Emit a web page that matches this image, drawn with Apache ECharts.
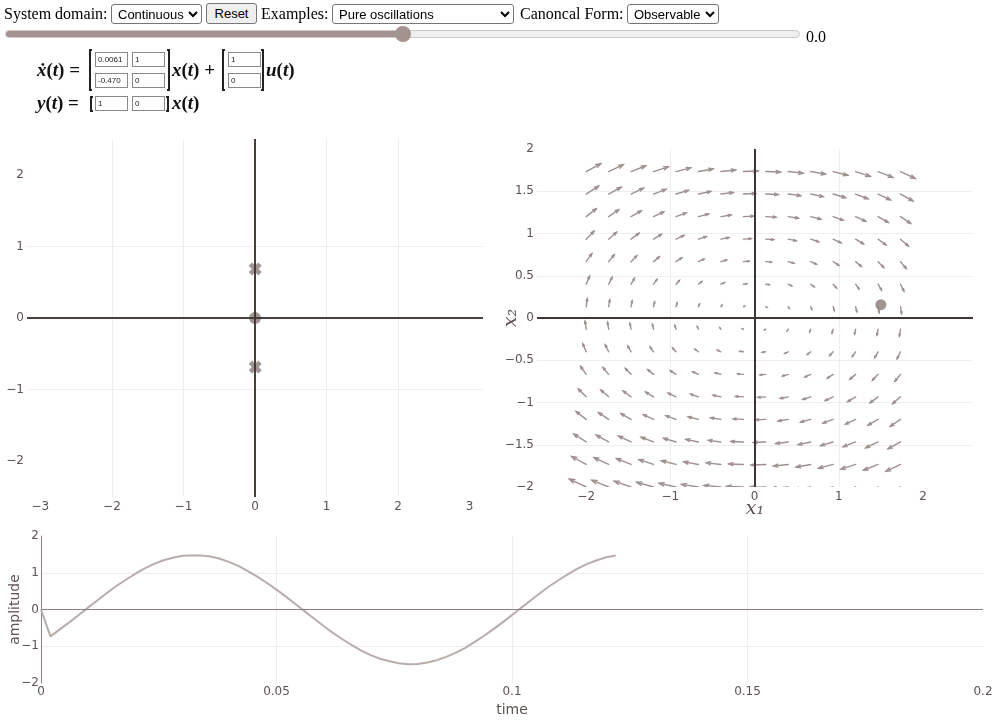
<!DOCTYPE html>
<html><head><meta charset="utf-8">
<script src="https://cdn.jsdelivr.net/npm/echarts@6/dist/echarts.min.js"></script>
<style>
html,body{margin:0;padding:0;background:#fff;width:998px;height:720px;overflow:hidden;font-family:'Liberation Serif','Times New Roman',serif;}
#chart{position:absolute;left:0;top:0;width:998px;height:720px;z-index:1;}
.t{position:absolute;z-index:2;font-size:16px;line-height:18px;color:#000;white-space:nowrap;}
select{position:absolute;z-index:2;font-family:'Liberation Sans',Arial,sans-serif;font-size:13px;height:20px;border:1px solid #767676;border-radius:3px;background:#fff;color:#000;padding:0 0 0 2px;margin:0;box-sizing:border-box;}
button{position:absolute;z-index:2;font-family:'Liberation Sans',Arial,sans-serif;font-size:13px;height:21px;border:1px solid #767676;border-radius:3px;background:#efefef;padding:0 6px;margin:0;box-sizing:border-box;}
input.r{position:absolute;z-index:2;left:5px;top:26px;width:795px;height:16px;margin:0;-webkit-appearance:none;appearance:none;background:transparent;}
input.r::-webkit-slider-runnable-track{height:8px;border-radius:4px;box-sizing:border-box;border:1px solid #cfc9c8;background:linear-gradient(to right,#a3938f 0,#a3938f 50%,#efefef 50%,#efefef 100%);}
input.r::-webkit-slider-thumb{-webkit-appearance:none;appearance:none;width:16px;height:16px;border-radius:50%;background:#a3938f;margin-top:-5px;border:none;}
.m{position:absolute;z-index:2;font-family:'Liberation Serif',serif;font-size:19px;font-weight:bold;white-space:nowrap;line-height:20px;color:#111;}
.m i{font-style:italic;}
.bl,.br{position:absolute;z-index:2;border:2px solid #222;width:3px;box-sizing:border-box;}
.bl{border-right:none;}
.br{border-left:none;}
input.c{position:absolute;z-index:2;width:33px;height:15px;font-family:'Liberation Sans',Arial,sans-serif;font-size:8px;padding:0 2px;border:1px solid #8a8a8a;box-sizing:border-box;margin:0;color:#222;background:#fff;}
</style>
</head><body>
<div id="chart"></div>

<span class="t" style="left:4px;top:5px;">System domain:</span>
<select style="left:111px;top:4px;width:91px;"><option>Continuous</option></select>
<button style="left:206px;top:3px;width:51px;">Reset</button>
<span class="t" style="left:261px;top:5px;">Examples:</span>
<select style="left:332px;top:4px;width:182px;"><option>Pure oscillations</option></select>
<span class="t" style="left:520px;top:5px;">Canoncal Form:</span>
<select style="left:627px;top:4px;width:92px;"><option>Observable</option></select>
<input class="r" type="range" min="-1" max="1" step="0.1" value="0">
<span class="t" style="left:806px;top:28px;">0.0</span>

<div class="m" style="left:37px;top:60px;"><i>ẋ</i>(<i>t</i>) =</div>
<div class="bl" style="left:89px;top:49px;height:42px;"></div>
<input class="c" style="left:95px;top:52px;" value="0.0061">
<input class="c" style="left:132px;top:52px;" value="1">
<input class="c" style="left:95px;top:73px;" value="-0.470">
<input class="c" style="left:132px;top:73px;" value="0">
<div class="br" style="left:167px;top:49px;height:42px;"></div>
<div class="m" style="left:172px;top:60px;"><i>x</i>(<i>t</i>) +</div>
<div class="bl" style="left:222px;top:49px;height:42px;"></div>
<input class="c" style="left:228px;top:52px;" value="1">
<input class="c" style="left:228px;top:73px;" value="0">
<div class="br" style="left:261px;top:49px;height:42px;"></div>
<div class="m" style="left:266px;top:60px;"><i>u</i>(<i>t</i>)</div>

<div class="m" style="left:37px;top:93px;"><i>y</i>(<i>t</i>) =</div>
<div class="bl" style="left:90px;top:96px;height:16px;"></div>
<input class="c" style="left:95px;top:96px;" value="1">
<input class="c" style="left:132px;top:96px;" value="0">
<div class="br" style="left:166px;top:96px;height:16px;"></div>
<div class="m" style="left:172px;top:93px;"><i>x</i>(<i>t</i>)</div>

<script>
// ---------------- data ----------------
// pole-zero map
const poles = [[0.003, 0.686], [0.003, -0.686]];
const zeros = [[0, 0]];
const pzTicksX = [-3, -2, -1, 0, 1, 2, 3];
const pzTicksY = [-2, -1, 0, 1, 2];

// phase portrait (quiver) : arrow tails and field components
const gridX1 = [-2, -1.733, -1.467, -1.2, -0.933, -0.667, -0.4, -0.133, 0.133, 0.4, 0.667, 0.933, 1.2, 1.467, 1.733];
const gridX2 = [-2, -1.733, -1.467, -1.2, -0.933, -0.667, -0.4, -0.133, 0.133, 0.4, 0.667, 0.933, 1.2, 1.467, 1.733];
const fieldDx1ByRow = [-2.0, -1.73, -1.47, -1.2, -0.93, -0.67, -0.4, -0.13, 0.13, 0.4, 0.67, 0.93, 1.2, 1.47, 1.74];
const fieldDx2ByCol = [0.94, 0.81, 0.69, 0.56, 0.44, 0.31, 0.19, 0.06, -0.06, -0.19, -0.31, -0.44, -0.56, -0.69, -0.81];
const statePoint = [[1.5, 0.157]];
const ppTicksX = [-2, -1, 0, 1, 2];

// time response
const timeValues = [0, 0.002, 0.004, 0.006, 0.008, 0.010, 0.012, 0.014, 0.016, 0.018, 0.020,
  0.022, 0.024, 0.026, 0.028, 0.030, 0.032, 0.034, 0.036, 0.038, 0.040,
  0.042, 0.044, 0.046, 0.048, 0.050, 0.052, 0.054, 0.056, 0.058, 0.060,
  0.062, 0.064, 0.066, 0.068, 0.070, 0.072, 0.074, 0.076, 0.078, 0.080,
  0.082, 0.084, 0.086, 0.088, 0.090, 0.092, 0.094, 0.096, 0.098, 0.100,
  0.102, 0.104, 0.106, 0.108, 0.110, 0.112, 0.114, 0.116, 0.118, 0.120, 0.122];
const amplitudeValues = [0, -0.73, -0.54, -0.35, -0.15, 0.05, 0.25, 0.45, 0.64, 0.81, 0.97,
  1.12, 1.24, 1.34, 1.41, 1.46, 1.47, 1.47, 1.44, 1.38, 1.29,
  1.18, 1.04, 0.89, 0.72, 0.54, 0.35, 0.15, -0.05, -0.25, -0.45,
  -0.64, -0.81, -0.97, -1.12, -1.24, -1.34, -1.41, -1.46, -1.49, -1.48,
  -1.44, -1.38, -1.29, -1.18, -1.05, -0.89, -0.72, -0.54, -0.35, -0.15,
  0.05, 0.25, 0.45, 0.64, 0.81, 0.97, 1.12, 1.24, 1.34, 1.42, 1.47, 1.49];

// ---------------- build ----------------
const quiverData = [];
for (let i = 0; i < gridX2.length; i++) {
  for (let j = 0; j < gridX1.length; j++) {
    quiverData.push([gridX1[j], gridX2[i], fieldDx1ByRow[i], fieldDx2ByCol[j]]);
  }
}
const respData = timeValues.map((t, i) => [t, amplitudeValues[i]]);

const QSCALE = 0.1, BARB = 0.3, BANG = Math.PI / 9;
const labelColor = '#5e5250';
const gridColor = '#eeeeee';
const zeroDark = '#3f3533';
const markColor = '#8a7a78';
const arrowColor = '#9e908e';
const fmt = v => String(+v.toFixed(4)).replace('-', '\u2212');
const font = 'DejaVu Sans';
const xPath = 'path://M-1.1,-2.3L0,-1.2L1.1,-2.3L2.3,-1.1L1.2,0L2.3,1.1L1.1,2.3L0,1.2L-1.1,2.3L-2.3,1.1L-1.2,0L-2.3,-1.1Z';

function axisBase(extra) {
  return Object.assign({
    type: 'value',
    nameMoveOverlap: false,
    axisLine: { show: false },
    axisTick: { show: false },
    axisLabel: { color: labelColor, fontFamily: font, fontSize: 12, margin: 3, formatter: fmt },
    splitLine: { show: true, showMinLine: false, showMaxLine: false, lineStyle: { color: gridColor, width: 1 } }
  }, extra);
}

const option = {
  animation: false,
  grid: [
    { left: 27, top: 139, width: 456, height: 358, outerBoundsMode: 'none', containLabel: false },
    { left: 537, top: 149, width: 436, height: 338, outerBoundsMode: 'none', containLabel: false },
    { left: 41, top: 536, width: 942, height: 147, outerBoundsMode: 'none', containLabel: false }
  ],
  xAxis: [
    axisBase({ gridIndex: 0, min: -3.187, max: 3.187,
      axisLabel: { color: labelColor, fontFamily: font, fontSize: 12, margin: 4, formatter: fmt, customValues: pzTicksX },
      axisTick: { show: false, customValues: pzTicksX } }),
    axisBase({ gridIndex: 1, min: -2.584, max: 2.594,
      axisLabel: { color: labelColor, fontFamily: font, fontSize: 12, margin: 4, formatter: fmt, customValues: ppTicksX },
      axisTick: { show: false, customValues: ppTicksX },
      name: 'x\u2081', nameLocation: 'middle', nameGap: 13,
      nameTextStyle: { fontFamily: 'DejaVu Serif', fontStyle: 'italic', fontSize: 19, color: labelColor } }),
    axisBase({ gridIndex: 2, min: 0, max: 0.2, interval: 0.05,
      name: 'time', nameLocation: 'middle', nameGap: 20,
      nameTextStyle: { fontFamily: font, fontSize: 14, color: labelColor } })
  ],
  yAxis: [
    axisBase({ gridIndex: 0, min: -2.5, max: 2.5,
      axisLabel: { color: labelColor, fontFamily: font, fontSize: 12, margin: 3, formatter: fmt, customValues: pzTicksY },
      axisTick: { show: false, customValues: pzTicksY } }),
    axisBase({ gridIndex: 1, min: -2, max: 2, interval: 0.5,
      name: 'x\u2082', nameLocation: 'middle', nameGap: 16, nameRotate: 90,
      nameTextStyle: { fontFamily: 'DejaVu Serif', fontStyle: 'italic', fontSize: 19, color: labelColor } }),
    axisBase({ gridIndex: 2, min: -2, max: 2, interval: 1,
      axisLine: { show: true, lineStyle: { color: '#8c8180', width: 1 } },
      axisLabel: { color: labelColor, fontFamily: font, fontSize: 12, margin: 2, formatter: fmt },
      name: 'amplitude', nameLocation: 'middle', nameGap: 19,
      nameTextStyle: { fontFamily: font, fontSize: 14, color: labelColor } })
  ],
  series: [
    // pole-zero map
    { type: 'scatter', xAxisIndex: 0, yAxisIndex: 0, data: zeros, symbol: 'circle', symbolSize: 12,
      itemStyle: { color: markColor }, z: 3 },
    { type: 'scatter', xAxisIndex: 0, yAxisIndex: 0, data: poles, symbol: xPath, symbolSize: 13,
      itemStyle: { color: markColor }, z: 3 },
    { type: 'scatter', xAxisIndex: 0, yAxisIndex: 0, data: [], z: 5,
      markLine: { silent: true, symbol: ['none', 'none'], label: { show: false },
        lineStyle: { color: zeroDark, width: 2, type: 'solid', opacity: 0.95 },
        data: [{ xAxis: 0 }, { yAxis: 0 }] } },
    // phase portrait
    { type: 'scatter', xAxisIndex: 1, yAxisIndex: 1, data: [], z: 1,
      markLine: { silent: true, symbol: ['none', 'none'], label: { show: false },
        lineStyle: { color: zeroDark, width: 2, type: 'solid', opacity: 1 },
        data: [{ xAxis: 0 }, { yAxis: 0 }] } },
    { type: 'custom', xAxisIndex: 1, yAxisIndex: 1, data: quiverData, z: 3, clip: true,
      renderItem: function (params, api) {
        const x = api.value(0), y = api.value(1);
        const u = api.value(2) * QSCALE, v = api.value(3) * QSCALE;
        const hx = x + u, hy = y + v;
        const L = Math.hypot(u, v) * BARB;
        const a = Math.atan2(v, u);
        const p0 = api.coord([x, y]);
        const p1 = api.coord([hx, hy]);
        const b1 = api.coord([hx - L * Math.cos(a + BANG), hy - L * Math.sin(a + BANG)]);
        const b2 = api.coord([hx - L * Math.cos(a - BANG), hy - L * Math.sin(a - BANG)]);
        const st = { stroke: arrowColor, lineWidth: 1.4, fill: null, lineCap: 'round' };
        return { type: 'group', children: [
          { type: 'polyline', shape: { points: [p0, p1] }, style: st },
          { type: 'polyline', shape: { points: [b1, p1, b2] }, style: st }
        ] };
      } },
    { type: 'scatter', xAxisIndex: 1, yAxisIndex: 1, data: statePoint, symbol: 'circle', symbolSize: 11,
      itemStyle: { color: markColor }, z: 4 },
    // time response
    { type: 'scatter', xAxisIndex: 2, yAxisIndex: 2, data: [], z: 1,
      markLine: { silent: true, symbol: ['none', 'none'], label: { show: false },
        lineStyle: { color: '#8c8180', width: 1.2, type: 'solid' },
        data: [{ yAxis: 0 }] } },
    { type: 'line', xAxisIndex: 2, yAxisIndex: 2, data: respData, showSymbol: false, symbol: 'none',
      lineStyle: { color: '#b8adaa', width: 2 }, z: 3 }
  ]
};

const chart = echarts.init(document.getElementById('chart'), null, { renderer: 'canvas' });
chart.setOption(option);
</script>
</body></html>
